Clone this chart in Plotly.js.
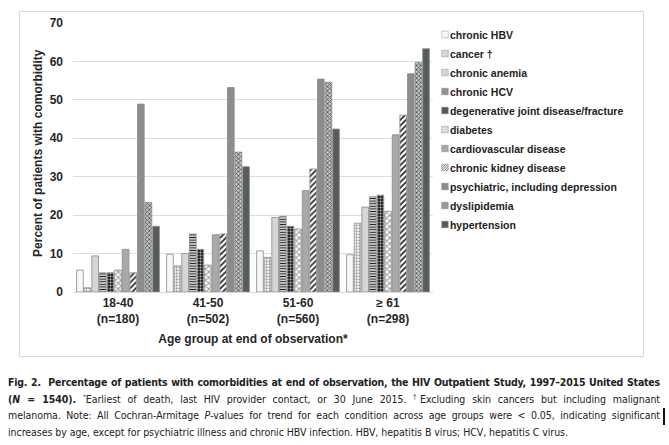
<!DOCTYPE html>
<html>
<head>
<meta charset="utf-8">
<script src="https://cdn.plot.ly/plotly-3.0.1.min.js"></script>
<style>
  html, body { margin: 0; padding: 0; background: #fff; }
  body { width: 669px; height: 445px; position: relative; overflow: hidden; }
  #frame { position: absolute; left: 19px; top: 11px; width: 623px; height: 344px; border: 1px solid #d9d9d9; }
  #chart { width: 623px; height: 344px; }
  #caption { position: absolute; left: 8px; top: 374px; width: 652px;
    font-family: "DejaVu Sans Condensed", "Liberation Sans", sans-serif;
    font-size: 10.5px; letter-spacing: -0.05px; line-height: 16.6px; color: #222; }
  #caption .j { text-align: justify; text-align-last: justify; white-space: nowrap; }
  #caption .j.first { letter-spacing: -0.2px; }
  #caption .l { text-align: left; white-space: nowrap; }
  #caption sup { font-size: 6.5px; line-height: 0; }
  #mark { position: absolute; left: 663px; top: 408px; width: 2px; height: 17px; background: #111; }
</style>
</head>
<body>
<div id="frame"><div id="chart"></div></div>
<div id="caption">
  <div class="j first"><b>Fig. 2.&nbsp; Percentage of patients with comorbidities at end of observation, the HIV Outpatient Study, 1997–2015 United States</b></div>
  <div class="j"><b>(<i>N</i> = 1540).</b> <sup>*</sup>Earliest of death, last HIV provider contact, or 30 June 2015. <sup>†</sup>Excluding skin cancers but including malignant</div>
  <div class="j">melanoma. Note: All Cochran-Armitage <i>P</i>-values for trend for each condition across age groups were &lt; 0.05, indicating significant</div>
  <div class="l">increases by age, except for psychiatric illness and chronic HBV infection. HBV, hepatitis B virus; HCV, hepatitis C virus.</div>
</div>
<div id="mark"></div>
<script>
// ---- data ----
const ageGroups = ["18-40", "41-50", "51-60", "≥ 61"];
const groupN = ["(n=180)", "(n=502)", "(n=560)", "(n=298)"];

const seriesNames = [
  "chronic HBV", "cancer †", "chronic anemia", "chronic HCV",
  "degenerative joint disease/fracture", "diabetes", "cardiovascular disease",
  "chronic kidney disease", "psychiatric, including depression", "dyslipidemia", "hypertension"
];

const chronicHBV    = [5.7, 9.8, 10.7, 9.7];
const cancer        = [1.1, 6.8, 9.0, 17.9];
const chronicAnemia = [9.4, 10.0, 19.4, 22.1];
const chronicHCV    = [5.0, 15.1, 19.7, 24.8];
const djd           = [5.0, 11.1, 17.1, 25.2];
const diabetes      = [5.7, 7.0, 16.4, 21.0];
const cvd           = [11.1, 14.9, 26.4, 40.9];
const ckd           = [5.0, 15.1, 32.0, 46.0];
const psychiatric   = [48.9, 53.2, 55.4, 56.8];
const dyslipidemia  = [23.3, 36.4, 54.6, 59.7];
const hypertension  = [17.1, 32.6, 42.4, 63.3];

const seriesValues = [chronicHBV, cancer, chronicAnemia, chronicHCV, djd, diabetes,
  cvd, ckd, psychiatric, dyslipidemia, hypertension];

// ---- styles ----
const styles = [
  { color: "#f7f7f7" },
  { color: "#ffffff", pattern: { shape: ".", fgcolor: "#9a9a9a", bgcolor: "#ffffff", size: 3, solidity: 0.45 } },
  { color: "#d3d7d6" },
  { color: "#ffffff", pattern: { shape: "-", fgcolor: "#222222", bgcolor: "#ffffff", size: 2.6, solidity: 0.5 } },
  { color: "#222222", pattern: { shape: ".", fgcolor: "#bdbdbd", bgcolor: "#1e1e1e", size: 3, solidity: 0.35 } },
  { color: "#ffffff", pattern: { shape: "x", fgcolor: "#9a9a9a", bgcolor: "#ffffff", size: 4, solidity: 0.45 } },
  { color: "#a9a9a9" },
  { color: "#ffffff", pattern: { shape: "/", fgcolor: "#222222", bgcolor: "#ffffff", size: 4, solidity: 0.4 } },
  { color: "#8c8c8c" },
  { color: "#bdbdbd", pattern: { shape: "x", fgcolor: "#333333", bgcolor: "#c8c8c8", size: 3, solidity: 0.4 } },
  { color: "#565c5c" }
];

const categories = ageGroups.map((g, i) => g + "<br>" + groupN[i]);

const traces = seriesNames.map((name, k) => {
  const st = styles[k];
  const marker = { color: st.color, line: { color: "#8a8a8a", width: 0.8 } };
  if (st.pattern) marker.pattern = st.pattern;
  return {
    type: "bar", name: name, x: categories, y: seriesValues[k],
    marker: marker, legendgroup: "g" + k, hoverinfo: "y+name"
  };
});

const fontFam = "Liberation Sans, Arial, sans-serif";
const boldFont = { family: fontFam, size: 12, color: "#262626", weight: "bold" };

const layout = {
  width: 623, height: 344,
  margin: { l: 53, r: 210, t: 11, b: 64, pad: 0 },
  paper_bgcolor: "#ffffff", plot_bgcolor: "#ffffff",
  barmode: "group", bargap: 0.07, bargroupgap: 0.12,
  font: boldFont,
  xaxis: {
    type: "category", showgrid: false, showline: true, linecolor: "#d9d9d9", linewidth: 1,
    ticks: "", tickfont: boldFont,
    title: { text: "Age group at end of observation*", font: boldFont, standoff: 9 },
    automargin: false
  },
  yaxis: {
    range: [0, 70], dtick: 10, showgrid: true, gridcolor: "#dcdfdf", gridwidth: 1,
    zeroline: false, showline: false, ticks: "", ticklabelstandoff: 9,
    tickfont: boldFont, automargin: false
  },
  annotations: [{
    text: "Percent of patients with comorbidity", textangle: -90,
    xref: "paper", yref: "paper", x: 0, y: 0.517, xanchor: "center", yanchor: "middle",
    xshift: -35, showarrow: false, font: boldFont
  }],
  showlegend: true,
  legend: {
    x: 0.936, xanchor: "left", y: 1.0, yanchor: "top",
    bgcolor: "rgba(0,0,0,0)", borderwidth: 0,
    font: { family: fontFam, size: 10.5, color: "#222222", weight: "bold" },
    traceorder: "normal", tracegroupgap: 2, itemclick: false, itemdoubleclick: false
  }
};

function tidyLegend(gd) {
  // small square swatches placed right before the legend text
  gd.querySelectorAll(".legend .legendpoints path").forEach(p => {
    p.setAttribute("transform", "translate(35,0) scale(0.55)");
  });
  // nudge the legend up slightly to match the reference spacing
  const lg = gd.querySelector("g.legend");
  if (lg && !lg.dataset.nudged) {
    const t = lg.getAttribute("transform") || "";
    const m = t.match(/translate\(\s*([-\d.]+)[ ,]+([-\d.]+)\s*\)/);
    if (m) {
      lg.setAttribute("transform", "translate(" + m[1] + "," + (parseFloat(m[2]) - 3) + ")");
      lg.dataset.nudged = "1";
    }
  }
}

const gdiv = document.getElementById("chart");
Plotly.newPlot(gdiv, traces, layout, { displayModeBar: false, staticPlot: true }).then(gd => {
  tidyLegend(gd);
  setTimeout(() => tidyLegend(gd), 0);
});
</script>
</body>
</html>
